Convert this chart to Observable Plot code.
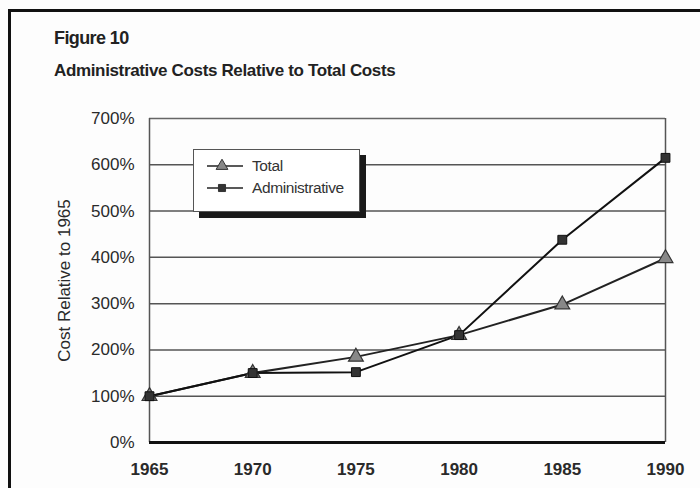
<!DOCTYPE html>
<html>
<head>
<meta charset="utf-8">
<script src="https://cdn.jsdelivr.net/npm/d3@7"></script>
<script src="https://cdn.jsdelivr.net/npm/@observablehq/plot@0.6"></script>
<style>
  html, body { margin: 0; padding: 0; background: #fff; }
  #page { position: relative; width: 700px; height: 488px; overflow: hidden; background: #fdfdfd;
          font-family: "Liberation Sans", Arial, Helvetica, sans-serif; color: #222; }
  #frame { position: absolute; left: 8px; top: 9px; right: -10px; bottom: -10px;
           border-top: 3px solid #111; border-left: 3px solid #111; }
  #fig { position: absolute; left: 54px; top: 28px; font-size: 18px; font-weight: bold; letter-spacing: -0.6px; }
  #title { position: absolute; left: 54px; top: 61px; font-size: 17px; font-weight: bold; letter-spacing: -0.35px; }
  #chart { position: absolute; left: 0; top: 0; }
  #legend { position: absolute; left: 193px; top: 149px; width: 165px; height: 61px; background: #fff;
            border: 1.5px solid #555; box-shadow: 6px 6px 0 #1a1a1a; }
  .row { position: absolute; left: 12px; height: 18px; display: flex; align-items: center; font-size: 15.5px; letter-spacing: -0.4px; color: #333; }
  .row svg { margin-right: 8px; }
</style>
</head>
<body>
<div id="page">
  <div id="frame"></div>
  <div id="fig">Figure 10</div>
  <div id="title">Administrative Costs Relative to Total Costs</div>
  <div id="chart"></div>
  <div id="legend"></div>
</div>
<script>
// Cost of each series, as a percentage of its 1965 level
const years = [1965, 1970, 1975, 1980, 1985, 1990];
const totalCosts = [100, 150, 185, 232, 298, 398];
const adminCosts = [100, 150, 152, 232, 438, 615];
const seriesNames = ["Total", "Administrative"];
const yTicks = [0, 100, 200, 300, 400, 500, 600, 700];

const rows = years.flatMap((year, i) => [
  {year, value: totalCosts[i], series: seriesNames[0]},
  {year, value: adminCosts[i], series: seriesNames[1]}
]);
const total = rows.filter(d => d.series === "Total");
const admin = rows.filter(d => d.series === "Administrative");

const chart = Plot.plot({
  width: 700,
  height: 488,
  marginLeft: 149,
  marginRight: 35,
  marginTop: 118,
  marginBottom: 46,
  style: {background: "transparent", fontFamily: "'Liberation Sans', Arial, sans-serif", color: "#2a2a2a"},
  x: {domain: [1965, 1990]},
  y: {domain: [0, 700]},
  marks: [
    // horizontal gridlines
    Plot.ruleY(yTicks.slice(1, -1), {stroke: "#555", strokeWidth: 1.5}),
    // plot frame: top, left, right
    Plot.ruleY([700], {stroke: "#666", strokeWidth: 1.5}),
    Plot.ruleX([1965, 1990], {stroke: "#555", strokeWidth: 1.5}),
    Plot.axisY({ticks: yTicks, tickSize: 0, tickPadding: 15, tickFormat: d => d + "%", fontSize: 17,
      label: "Cost Relative to 1965", labelAnchor: "center", labelArrow: "none", labelOffset: 92}),
    Plot.axisX({ticks: years, tickSize: 0, tickPadding: 20, tickFormat: d => String(d), label: null,
      fontSize: 17, fontWeight: "bold"}),
    // series lines and markers
    Plot.line(total, {x: "year", y: "value", stroke: "#222", strokeWidth: 2}),
    Plot.line(admin, {x: "year", y: "value", stroke: "#111", strokeWidth: 2}),
    Plot.dot(total, {x: "year", y: "value", symbol: "triangle", r: 5.5, fill: "#888", stroke: "#333", strokeWidth: 1.2}),
    Plot.dot(admin, {x: "year", y: "value", symbol: "square", r: 5, fill: "#333", stroke: "#111", strokeWidth: 1}),
    // baseline
    Plot.ruleY([0], {stroke: "#111", strokeWidth: 3})
  ]
});
document.getElementById("chart").append(chart);
// larger axis title
d3.select(chart).selectAll("[aria-label='y-axis label'] text").style("font-size", "17px");

// legend with line-and-marker swatches
const legend = d3.select("#legend");
const swatch = [
  {name: seriesNames[0], top: 7, shape: d3.symbolTriangle, fill: "#888", size: 60},
  {name: seriesNames[1], top: 29, shape: d3.symbolSquare, fill: "#333", size: 50}
];
for (const s of swatch) {
  const row = legend.append("div").attr("class", "row").style("top", s.top + "px");
  const svg = row.append("svg").attr("width", 38).attr("height", 16);
  svg.append("line").attr("x1", 1).attr("x2", 37).attr("y1", 8).attr("y2", 8).attr("stroke", "#222").attr("stroke-width", 1.5);
  svg.append("path").attr("transform", "translate(16,8)").attr("d", d3.symbol(s.shape, s.size)())
    .attr("fill", s.fill).attr("stroke", "#333").attr("stroke-width", 1);
  row.append("span").text(s.name);
}
</script>
</body>
</html>
